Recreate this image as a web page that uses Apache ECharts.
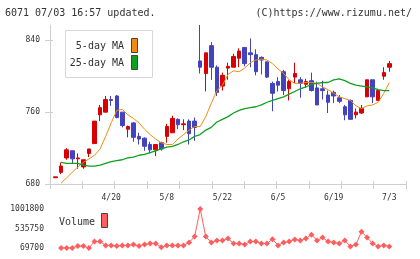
<!DOCTYPE html>
<html lang="en">
<head>
  <meta charset="UTF-8">
  <title>6071</title>
  <script src="https://cdn.jsdelivr.net/npm/echarts@6/dist/echarts.min.js"></script>
  <style>body{margin:0;background:#fff}</style>
</head>
<body>
  <div id="app" style="width: 420px; height: 259px;"></div>
  <script>
    var app = document.querySelector('#app')
    var mCharts = echarts.init(app)

    // trading days 4/6 .. 7/3
    var dates = ['4/6','4/7','4/8','4/9','4/10','4/13','4/14','4/15','4/16','4/17',
      '4/20','4/21','4/22','4/23','4/24','4/27','4/28','4/30','5/1','5/7',
      '5/8','5/11','5/12','5/13','5/14','5/15','5/18','5/19','5/20','5/21',
      '5/22','5/25','5/26','5/27','5/28','5/29','6/1','6/2','6/3','6/4',
      '6/5','6/8','6/9','6/10','6/11','6/12','6/15','6/16','6/17','6/18',
      '6/19','6/22','6/23','6/24','6/25','6/26','6/29','6/30','7/1','7/2','7/3']
    var tickLabels = ['4/20', '5/8', '5/22', '6/5', '6/19', '7/3']
    var priceTicks = [680, 760, 840]
    var volTicks = [69700, 535750, 1001800]

    // open, close, low, high
    var ohlc = [
      [687,688,687,688],[693,700,691,704],[709,718,707,720],[717,708,703,717],[708,709,697,714],
      [699,707,697,707],[714,719,710,719],[725,750,725,750],[757,765,750,768],[760,774,760,778],
      [774,773,767,778],[778,754,753,779],[760,745,743,760],[741,744,732,745],[748,732,727,749],
      [733,730,724,737],[731,722,717,732],[724,718,714,727],[718,724,711,724],[726,719,717,727],
      [733,744,726,747],[737,753,737,756],[752,746,741,753],[746,747,740,752],[750,736,724,752],
      [750,743,728,754],[817,810,803,857],[803,826,783,826],[834,810,796,838],[810,782,778,812],
      [789,801,784,804],[809,811,796,815],[810,822,810,825],[820,828,810,831],[832,814,811,832],
      [826,824,810,842],[824,805,801,830],[821,818,802,822],[816,799,798,816],[792,781,761,794],
      [794,790,783,799],[805,784,779,807],[786,794,773,796],[799,803,792,815],[796,792,776,799],
      [791,794,787,797],[795,784,783,804],[787,768,768,794],[786,784,774,795],[779,771,759,784],
      [782,778,770,784],[776,772,770,779],[766,757,751,768],[773,752,752,774],[757,760,753,764],
      [759,764,758,768],[777,796,777,796],[796,777,770,796],[773,784,773,786],[800,804,796,810],
      [810,814,805,817]
    ]

    var ma5 = [null, 681,687,693,699,704,708,712,719,733,748,
      762,763,757,753,748,741,735,730,726,724,
      724,730,735,740,744,744,755,770,784,790,
      802,806,805,809,815,818,819,818,814,808,
      803,796,792,792,793,793,792,788,785,781,
      777,775,773,767,764,767,768,771,781,793]

    var ma25 = [null, 704,703,703,703,701,700,700,701,703,705,
      706,707,709,710,712,713,715,717,719,721,
      722,724,727,729,733,735,740,743,749,752,
      755,759,762,764,765,766,768,771,773,775,
      777,780,783,786,788,791,792,793,793,796,
      797,795,792,790,789,788,787,785,784,784]

    var volume = [null, 69700,69700,69700,116300,116300,69700,225100,225100,131800,131800,
      116300,131800,131800,155100,116300,155100,178500,178500,85200,131800,
      131800,131800,131800,201800,341600,1001800,341600,201800,248400,248400,
      295000,178500,178500,155100,225100,225100,178500,178500,279400,131800,
      201800,225100,271600,248400,295000,388200,248400,318300,225100,201800,
      178500,248400,108500,155100,458100,318300,178500,108500,131800,108500]

    // one empty slot before, three after
    var cats = [''].concat(dates, ['', '', ''])
    function pts(arr) {
      var out = []
      arr.forEach(function (v, i) { if (v != null) out.push([i + 1, v]) })
      return out
    }

    var mono = '"DejaVu Sans Mono", monospace'
    var axisGray = '#cfcfcf'
    var txt = '#333'

    var option = {
      animation: false,
      grid: [
        { left: 50, right: 14, top: 25, height: 159 },
        { left: 50, right: 14, top: 209, height: 39 }
      ],
      xAxis: [
        {
          type: 'category', gridIndex: 0, data: cats, boundaryGap: false,
          axisLine: { show: false }, axisTick: { show: false },
          axisLabel: {
            interval: 0, fontSize: 8, fontFamily: mono, color: txt, margin: 10,
            formatter: function (v) { return tickLabels.indexOf(v) >= 0 ? v : '' }
          }
        },
        {
          type: 'value', gridIndex: 0, min: 0, max: 11, interval: 1, position: 'bottom',
          axisLine: { lineStyle: { color: axisGray } },
          axisTick: { length: 5, lineStyle: { color: axisGray } },
          axisLabel: { show: false }, splitLine: { show: false }
        },
        {
          type: 'value', gridIndex: 0, min: 0, max: 11, interval: 1, position: 'bottom',
          axisLine: { show: false },
          axisTick: { inside: true, length: 3, lineStyle: { color: axisGray } },
          axisLabel: { show: false }, splitLine: { show: false }
        },
        { type: 'category', gridIndex: 1, data: cats, boundaryGap: false, show: false }
      ],
      yAxis: [
        {
          type: 'value', gridIndex: 0, min: 680, max: 857,
          axisLine: { show: true, lineStyle: { color: axisGray } },
          axisTick: { show: true, length: 5, customValues: priceTicks, lineStyle: { color: axisGray } },
          axisLabel: { customValues: priceTicks, fontSize: 8, fontFamily: mono, color: txt, margin: 10 },
          splitLine: { show: false }
        },
        {
          type: 'value', gridIndex: 0, min: 680, max: 857, position: 'left',
          axisLine: { show: false },
          axisTick: { show: true, inside: true, length: 3, customValues: priceTicks, lineStyle: { color: axisGray } },
          axisLabel: { show: false }, splitLine: { show: false }
        },
        {
          type: 'value', gridIndex: 1, min: 69700, max: 1001800,
          axisLine: { show: false }, axisTick: { show: false },
          axisLabel: {
            customValues: volTicks, fontSize: 8, fontFamily: mono, color: txt, margin: 6,
            formatter: function (v) { return String(v) }
          },
          splitLine: { show: false }
        }
      ],
      series: [
        {
          type: 'candlestick', xAxisIndex: 0, yAxisIndex: 0,
          data: ohlc.map(function (d, i) { return [i + 1].concat(d) }),
          encode: { x: 0, y: [1, 2, 3, 4] },
          barWidth: 4,
          itemStyle: {
            color: '#d80000', color0: '#4343bf',
            borderColor: '#d80000', borderColor0: '#4343bf', borderWidth: 1
          }
        },
        {
          type: 'line', xAxisIndex: 0, yAxisIndex: 0, data: pts(ma5),
          showSymbol: false, lineStyle: { color: '#f08c10', width: 1 }
        },
        {
          type: 'line', xAxisIndex: 0, yAxisIndex: 0, data: pts(ma25),
          showSymbol: false, lineStyle: { color: '#10a020', width: 1.3 }
        },
        {
          type: 'line', xAxisIndex: 3, yAxisIndex: 2, data: pts(volume),
          symbol: 'diamond', symbolSize: 6, showSymbol: true, showAllSymbol: true,
          itemStyle: { color: '#ff5e5e' }, lineStyle: { color: '#ff5e5e', width: 1 }
        }
      ],
      graphic: [
        { type: 'text', left: 5, top: 8, style: { text: '6071 07/03 16:57 updated.', font: '10px ' + mono, fill: txt } },
        { type: 'text', right: 8, top: 8, style: { text: '(C)https://www.rizumu.net/', font: '10px ' + mono, fill: txt } },
        // MA legend box
        { type: 'rect', shape: { x: 65.5, y: 30.5, width: 87, height: 47 }, style: { fill: '#fff', stroke: '#d8d8d8', lineWidth: 1 }, z: 10 },
        { type: 'text', x: 124, y: 46, style: { text: '5-day MA', font: '10px ' + mono, fill: txt, align: 'right', verticalAlign: 'middle' }, z: 11 },
        { type: 'text', x: 124, y: 63, style: { text: '25-day MA', font: '10px ' + mono, fill: txt, align: 'right', verticalAlign: 'middle' }, z: 11 },
        { type: 'rect', shape: { x: 131.5, y: 38.5, width: 6, height: 14 }, style: { fill: '#f08c10', stroke: '#444', lineWidth: 1 }, z: 11 },
        { type: 'rect', shape: { x: 131.5, y: 55.5, width: 6, height: 14 }, style: { fill: '#10a020', stroke: '#444', lineWidth: 1 }, z: 11 },
        // volume legend
        { type: 'text', x: 59, y: 222, style: { text: 'Volume', font: '10px ' + mono, fill: txt, verticalAlign: 'middle' }, z: 11 },
        { type: 'rect', shape: { x: 101.5, y: 213.5, width: 6, height: 14 }, style: { fill: '#ff5e5e', stroke: '#444', lineWidth: 1 }, z: 11 }
      ]
    }
    mCharts.setOption(option)
  </script>
</body>
</html>
